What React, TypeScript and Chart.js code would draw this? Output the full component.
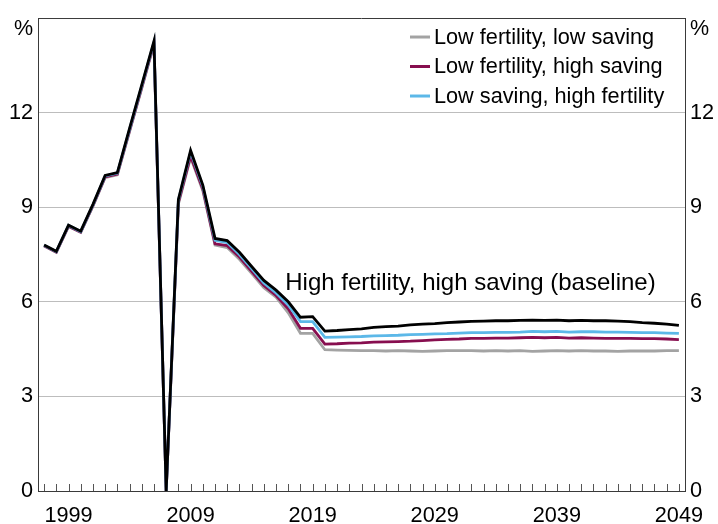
import React, { useEffect, useRef } from "react";
import { Chart, registerables } from "chart.js";

Chart.register(...registerables);

const years: string[] = [];
for (let y = 1997; y <= 2049; y++) years.push(String(y));

const baseline = [
  7.80, 7.60, 8.43, 8.24, 9.09, 10.01, 10.10, 11.50, 12.88, 14.27,
  0.0, 9.25, 10.80, 9.70, 8.01, 7.94, 7.57, 7.12, 6.68, 6.37,
  6.00, 5.51, 5.53, 5.07, 5.09, 5.12, 5.14, 5.19, 5.21, 5.23,
  5.27, 5.29, 5.31, 5.34, 5.36, 5.38, 5.39, 5.40, 5.40, 5.41,
  5.42, 5.41, 5.42, 5.40, 5.41, 5.40, 5.40, 5.39, 5.37, 5.34,
  5.32, 5.29, 5.25,
];

const lowSavingHighFert = [
  7.79, 7.59, 8.42, 8.23, 9.07, 9.99, 10.08, 11.47, 12.85, 14.24,
  0.0, 9.22, 10.75, 9.66, 7.95, 7.88, 7.50, 7.05, 6.60, 6.28,
  5.90, 5.37, 5.37, 4.87, 4.88, 4.89, 4.90, 4.92, 4.93, 4.94,
  4.96, 4.97, 4.98, 4.99, 5.01, 5.02, 5.02, 5.03, 5.03, 5.04,
  5.06, 5.05, 5.06, 5.04, 5.05, 5.05, 5.04, 5.04, 5.03, 5.02,
  5.02, 5.01, 5.00,
];

const lowFertHighSaving = [
  7.78, 7.58, 8.40, 8.21, 9.05, 9.96, 10.05, 11.43, 12.80, 14.20,
  0.0, 9.15, 10.62, 9.58, 7.84, 7.78, 7.42, 6.97, 6.52, 6.20,
  5.78, 5.16, 5.16, 4.66, 4.67, 4.69, 4.70, 4.72, 4.73, 4.74,
  4.75, 4.77, 4.79, 4.81, 4.82, 4.84, 4.84, 4.85, 4.85, 4.86,
  4.87, 4.86, 4.87, 4.85, 4.86, 4.85, 4.84, 4.84, 4.84, 4.83,
  4.83, 4.82, 4.80,
];

const lowFertLowSaving = [
  7.77, 7.57, 8.39, 8.20, 9.03, 9.94, 10.03, 11.40, 12.77, 14.17,
  0.0, 9.10, 10.58, 9.52, 7.80, 7.72, 7.35, 6.90, 6.45, 6.15,
  5.65, 5.00, 5.00, 4.48, 4.47, 4.46, 4.45, 4.45, 4.44, 4.45,
  4.44, 4.43, 4.44, 4.45, 4.45, 4.45, 4.44, 4.45, 4.44, 4.45,
  4.43, 4.44, 4.45, 4.44, 4.45, 4.44, 4.44, 4.43, 4.44, 4.44,
  4.44, 4.45, 4.45,
];

const yTicks = [0, 3, 6, 9, 12, 15];
const xLabelYears = ["1999", "2009", "2019", "2029", "2039", "2049"];
const legendItems = [
  { label: "Low fertility, low saving", color: "#a3a3a3" },
  { label: "Low fertility, high saving", color: "#870e4f" },
  { label: "Low saving, high fertility", color: "#5cb8e8" },
];
const annotationText = "High fertility, high saving (baseline)";

const FONT = "'Liberation Sans', Arial, sans-serif";

const decorPlugin = {
  id: "decor",
  beforeDatasetsDraw(chart: any) {
    const { ctx, chartArea, scales } = chart;
    const x = scales.x;
    ctx.save();
    ctx.strokeStyle = "#3a3a3a";
    ctx.lineWidth = 1;
    ctx.beginPath();
    ctx.moveTo(chartArea.left, chartArea.top + 0.5);
    ctx.lineTo(chartArea.right, chartArea.top + 0.5);
    ctx.stroke();
    ctx.strokeStyle = "#555555";
    ctx.beginPath();
    for (let i = 0; i < years.length; i++) {
      const px = Math.round(x.getPixelForValue(i)) + 0.5;
      ctx.moveTo(px, chartArea.bottom);
      ctx.lineTo(px, chartArea.bottom - 7);
    }
    ctx.stroke();
    ctx.restore();
  },
  afterDraw(chart: any) {
    const { ctx, chartArea, scales } = chart;
    const yL = scales.y;
    const yR = scales.y2;
    ctx.save();
    ctx.fillStyle = "#000";
    ctx.font = `21.5px ${FONT}`;
    ctx.textBaseline = "middle";
    const py = yL.getPixelForValue(15) + 11;
    ctx.textAlign = "right";
    ctx.fillText("%", yL.right - 5, py);
    ctx.textAlign = "left";
    ctx.fillText("%", yR.left + 5, py);

    const lx = chartArea.right - 275;
    ctx.font = `21.7px ${FONT}`;
    legendItems.forEach((item, i) => {
      const cy = chartArea.top + 19 + i * 29.5;
      ctx.strokeStyle = item.color;
      ctx.lineWidth = 3;
      ctx.beginPath();
      ctx.moveTo(lx, cy);
      ctx.lineTo(lx + 20, cy);
      ctx.stroke();
      ctx.textAlign = "left";
      ctx.textBaseline = "middle";
      ctx.fillStyle = "#000";
      ctx.fillText(item.label, lx + 24, cy + 1);
    });

    const x = scales.x;
    ctx.font = `24px ${FONT}`;
    ctx.textBaseline = "alphabetic";
    ctx.textAlign = "left";
    ctx.fillText(annotationText, x.getPixelForValue(20) - 3, yL.getPixelForValue(6.38));
    ctx.restore();
  },
};

export default function App() {
  const ref = useRef<HTMLCanvasElement | null>(null);
  useEffect(() => {
    document.body.style.margin = "0";
    if (!ref.current) return;
    const tickFont = { family: FONT, size: 21.7 };
    const yCommon = {
      type: "linear" as const,
      min: 0,
      max: 15,
      afterBuildTicks: (s: any) => {
        s.ticks = yTicks.map((v) => ({ value: v }));
      },
      ticks: {
        font: tickFont,
        color: "#000",
        padding: 5,
        callback: (v: any) => (Number(v) === 15 ? "" : String(v)),
      },
    };
    const chart = new Chart(ref.current, {
      type: "line",
      data: {
        labels: years,
        datasets: [
          { label: "High fertility, high saving (baseline)", data: baseline, borderColor: "#000000", order: 0 },
          { label: legendItems[2].label, data: lowSavingHighFert, borderColor: legendItems[2].color, order: 1 },
          { label: legendItems[1].label, data: lowFertHighSaving, borderColor: legendItems[1].color, order: 2 },
          { label: legendItems[0].label, data: lowFertLowSaving, borderColor: legendItems[0].color, order: 3 },
        ].map((d) => ({ ...d, borderWidth: 2.8, pointRadius: 0, tension: 0, fill: false, borderJoinStyle: "miter" as const })),
      },
      options: {
        animation: false,
        responsive: false,
        maintainAspectRatio: false,
        layout: { padding: { top: 14, left: 0, right: 0, bottom: 0 } },
        plugins: { legend: { display: false }, tooltip: { enabled: false } },
        scales: {
          x: {
            type: "category",
            offset: true,
            grid: { display: false, drawTicks: false },
            border: { display: true, color: "#3a3a3a", width: 1 },
            afterFit: (s: any) => {
              s.height = 33;
            },
            ticks: {
              autoSkip: false,
              maxRotation: 0,
              minRotation: 0,
              padding: 12,
              font: tickFont,
              color: "#000",
              callback: (_v: any, i: number) => (xLabelYears.includes(years[i]) ? years[i] : ""),
            },
          },
          y: {
            ...yCommon,
            position: "left",
            afterFit: (s: any) => {
              s.width = 38;
            },
            grid: {
              drawTicks: false,
              lineWidth: 1,
              color: (c: any) => (c.tick && c.tick.value > 0 && c.tick.value < 15 ? "#bdbdbd" : "rgba(0,0,0,0)"),
            },
            border: { display: true, color: "#3a3a3a", width: 1 },
          },
          y2: {
            ...yCommon,
            position: "right",
            afterFit: (s: any) => {
              s.width = 33;
            },
            grid: { display: false, drawTicks: false },
            border: { display: true, color: "#3a3a3a", width: 1 },
          },
        },
      },
      plugins: [decorPlugin],
    });
    return () => chart.destroy();
  }, []);
  return (
    <div style={{ width: 718, height: 524, position: "relative" }}>
      <canvas ref={ref} width={718} height={524} style={{ display: "block", width: 718, height: 524 }} />
    </div>
  );
}
